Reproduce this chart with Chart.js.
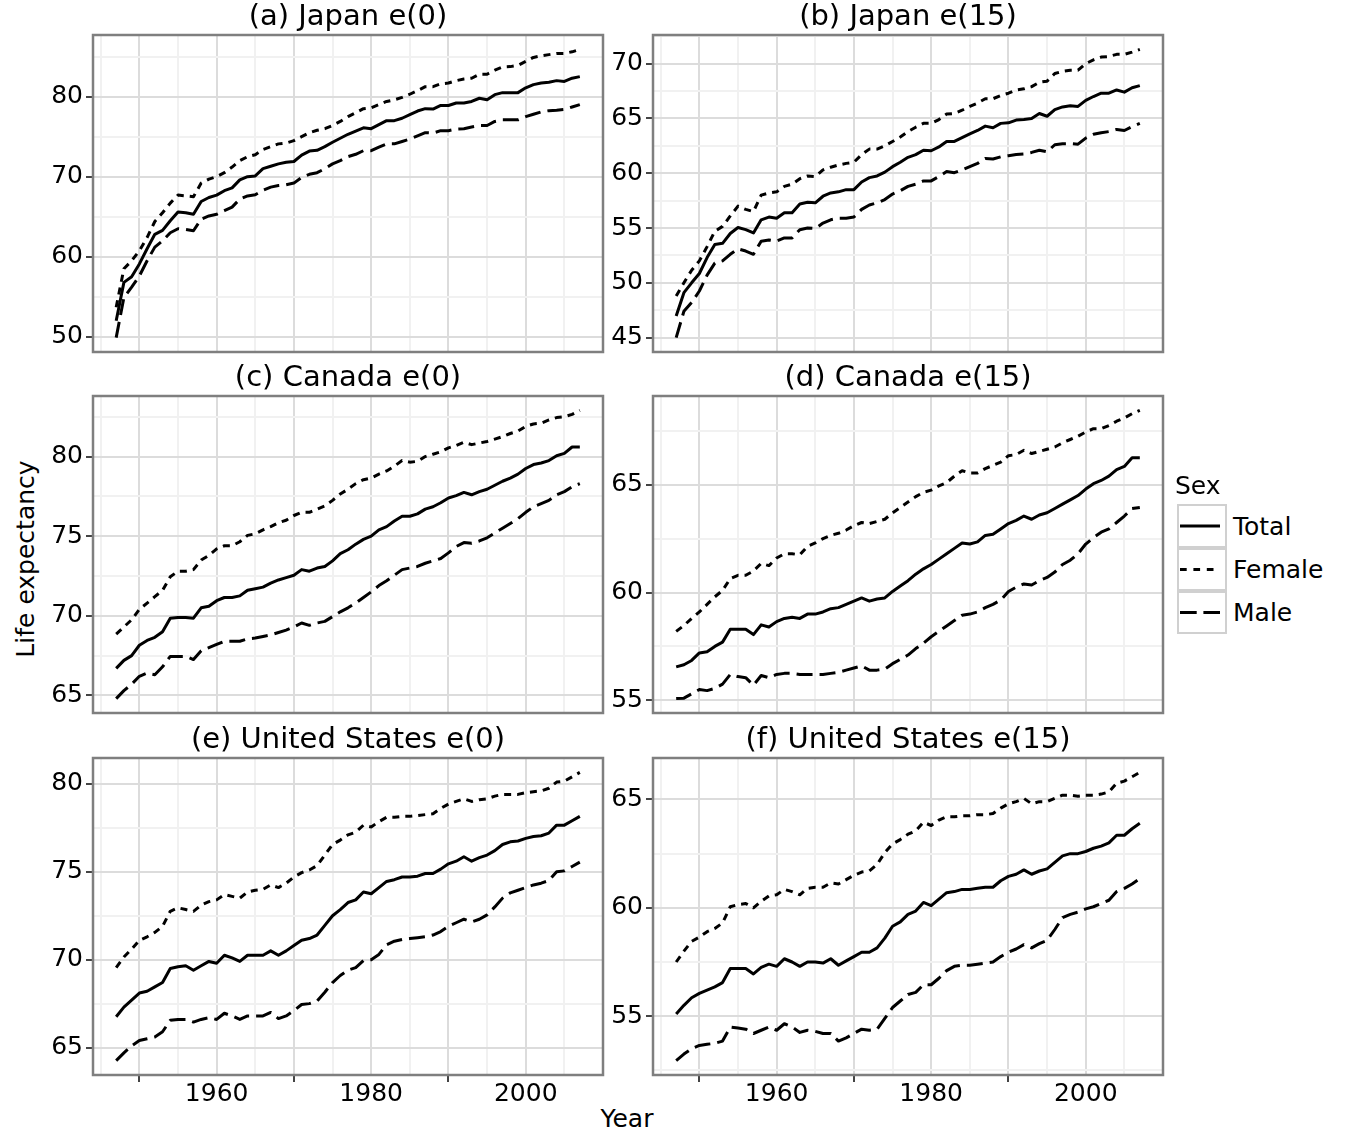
<!DOCTYPE html>
<html>
<head>
<meta charset="utf-8">
<title>Life expectancy: Japan, Canada, United States</title>
<script src="https://cdn.jsdelivr.net/npm/chart.js@4.4.1/dist/chart.umd.min.js"></script>
<style>
  html, body { margin: 0; padding: 0; background: #ffffff; }
  body { position: relative; width: 1350px; height: 1133px; overflow: hidden; font-family: 'DejaVu Sans', sans-serif; color: #000; }
  canvas.panel { position: absolute; }
  .txt { position: absolute; white-space: nowrap; font-size: 25px; line-height: 30px; height: 30px; color: #000; }
  #ylab { left: -124px; top: 544px; width: 300px; text-align: center; transform: rotate(-90deg); transform-origin: 50% 50%; }
  #xlab { left: 527px; top: 1104px; width: 200px; text-align: center; }
  #legendSvg { position: absolute; left: 0; top: 0; }
</style>
</head>
<body>
<div id="ylab" class="txt">Life expectancy</div>
<div id="xlab" class="txt">Year</div>
<script>
// ---------------- data ----------------
const years = [1947,1948,1949,1950,1951,1952,1953,1954,1955,1956,
               1957,1958,1959,1960,1961,1962,1963,1964,1965,1966,
               1967,1968,1969,1970,1971,1972,1973,1974,1975,1976,
               1977,1978,1979,1980,1981,1982,1983,1984,1985,1986,
               1987,1988,1989,1990,1991,1992,1993,1994,1995,1996,
               1997,1998,1999,2000,2001,2002,2003,2004,2005,2006,2007];

const sexNames = ['Total', 'Female', 'Male'];
const legendTitle = 'Sex';
const panelTitles = ['(a) Japan e(0)', '(b) Japan e(15)', '(c) Canada e(0)',
                     '(d) Canada e(15)', '(e) United States e(0)', '(f) United States e(15)'];

// (a) Japan e(0)
const japanE0Total = [52.0,56.8,57.5,59.1,61.0,62.8,63.3,64.5,65.6,65.5,
  65.3,66.9,67.4,67.7,68.25,68.6,69.6,70.0,70.1,71.0,
  71.3,71.6,71.8,71.9,72.7,73.2,73.3,73.75,74.3,74.8,
  75.3,75.7,76.1,76.0,76.5,77.0,77.0,77.3,77.75,78.2,
  78.5,78.45,78.9,78.9,79.2,79.2,79.4,79.8,79.6,80.25,
  80.5,80.5,80.5,81.1,81.5,81.7,81.8,82.0,81.9,82.3,82.5];
const japanE0Female = [53.7,58.5,59.5,60.75,62.4,64.4,65.5,66.7,67.7,67.6,
  67.5,69.2,69.7,70.0,70.5,71.2,72.0,72.5,72.75,73.4,
  73.75,74.1,74.2,74.5,75.0,75.5,75.8,76.0,76.4,76.9,
  77.5,78.0,78.5,78.6,79.0,79.4,79.6,79.9,80.3,80.75,
  81.25,81.25,81.6,81.7,82.0,82.2,82.3,82.8,82.8,83.3,
  83.7,83.75,83.9,84.4,84.9,85.1,85.25,85.4,85.4,85.6,85.9];
const japanE0Male = [49.9,54.9,56.2,57.6,59.5,61.2,62.0,63.0,63.5,63.4,
  63.25,64.7,65.1,65.3,65.75,66.2,67.2,67.6,67.75,68.3,
  68.7,68.9,69.0,69.2,69.9,70.3,70.5,71.0,71.6,72.0,
  72.5,72.8,73.25,73.25,73.7,74.1,74.1,74.4,74.7,75.1,
  75.5,75.45,75.75,75.75,75.95,76.0,76.2,76.4,76.4,76.9,
  77.1,77.1,77.1,77.5,77.8,78.1,78.25,78.3,78.4,78.7,79.0];

// (b) Japan e(15)
const japanE15Total = [46.97,49.1,50.0,50.85,52.3,53.5,53.6,54.5,55.05,54.85,
  54.55,55.75,56.0,55.9,56.4,56.4,57.2,57.35,57.3,57.9,
  58.2,58.3,58.5,58.5,59.2,59.6,59.75,60.1,60.6,61.0,
  61.45,61.7,62.1,62.05,62.4,62.9,62.9,63.25,63.6,63.9,
  64.3,64.15,64.55,64.6,64.85,64.9,65.0,65.45,65.2,65.8,
  66.05,66.15,66.1,66.65,67.0,67.3,67.3,67.6,67.4,67.8,68.0];
const japanE15Female = [48.8,50.0,51.15,52.0,53.3,54.7,55.15,56.1,57.0,56.7,
  56.5,58.0,58.2,58.3,58.8,59.0,59.5,59.75,59.7,60.3,
  60.55,60.75,60.9,61.0,61.7,62.2,62.2,62.5,62.9,63.3,
  63.8,64.2,64.55,64.55,64.9,65.4,65.45,65.75,66.1,66.4,
  66.8,66.8,67.1,67.3,67.6,67.7,67.9,68.3,68.4,69.1,
  69.3,69.4,69.4,70.0,70.35,70.6,70.65,70.85,70.85,71.05,71.3];
const japanE15Male = [45.0,47.4,48.2,49.25,50.7,51.8,52.0,52.6,53.1,52.9,
  52.6,53.8,53.9,53.8,54.1,54.1,54.85,55.0,54.95,55.45,
  55.75,55.9,55.9,56.0,56.7,57.1,57.3,57.6,58.1,58.4,
  58.8,59.0,59.3,59.3,59.7,60.15,60.05,60.3,60.6,60.9,
  61.35,61.3,61.5,61.6,61.7,61.75,61.9,62.1,61.95,62.6,
  62.7,62.7,62.65,63.2,63.55,63.7,63.8,64.0,63.9,64.25,64.55];

// (c) Canada e(0)
const canadaE0Total = [66.7,67.2,67.5,68.15,68.45,68.65,69.0,69.85,69.9,69.9,
  69.85,70.5,70.6,70.95,71.15,71.15,71.25,71.6,71.7,71.8,
  72.05,72.25,72.4,72.55,72.9,72.8,73.0,73.1,73.45,73.9,
  74.15,74.5,74.8,75.0,75.4,75.6,75.95,76.25,76.25,76.4,
  76.7,76.85,77.1,77.4,77.55,77.75,77.6,77.8,77.95,78.2,
  78.45,78.65,78.9,79.25,79.5,79.6,79.75,80.05,80.2,80.6,80.6];
const canadaE0Female = [68.85,69.3,69.75,70.4,70.8,71.2,71.6,72.45,72.8,72.8,
  72.9,73.5,73.8,74.2,74.4,74.4,74.65,75.05,75.15,75.4,
  75.6,75.85,76.0,76.3,76.5,76.5,76.7,76.9,77.25,77.65,
  77.95,78.3,78.55,78.65,78.9,79.1,79.4,79.75,79.65,79.7,
  80.0,80.15,80.3,80.55,80.7,80.9,80.75,80.85,80.95,81.1,
  81.25,81.45,81.6,81.9,82.05,82.1,82.3,82.45,82.5,82.65,82.9];
const canadaE0Male = [64.8,65.3,65.7,66.2,66.4,66.3,66.8,67.45,67.45,67.45,
  67.25,67.8,68.0,68.2,68.4,68.4,68.4,68.55,68.6,68.7,
  68.8,68.95,69.1,69.3,69.55,69.4,69.55,69.65,69.95,70.25,
  70.5,70.8,71.15,71.5,71.9,72.2,72.55,72.9,73.0,73.1,
  73.3,73.45,73.6,73.95,74.35,74.6,74.55,74.7,74.9,75.2,
  75.5,75.8,76.1,76.5,76.85,77.05,77.25,77.6,77.8,78.1,78.3];

// (d) Canada e(15)
const canadaE15Total = [56.55,56.65,56.85,57.2,57.25,57.5,57.7,58.3,58.3,58.3,
  58.05,58.5,58.4,58.65,58.8,58.85,58.8,59.0,59.0,59.1,
  59.25,59.3,59.45,59.6,59.75,59.6,59.7,59.75,60.05,60.3,
  60.55,60.85,61.1,61.3,61.55,61.8,62.05,62.3,62.25,62.35,
  62.65,62.7,62.95,63.2,63.35,63.55,63.4,63.6,63.7,63.9,
  64.1,64.3,64.5,64.8,65.05,65.2,65.4,65.7,65.85,66.25,66.25];
const canadaE15Female = [58.2,58.47,58.8,59.1,59.45,59.8,60.1,60.65,60.8,60.8,
  61.0,61.35,61.25,61.6,61.8,61.8,61.75,62.15,62.3,62.5,
  62.65,62.75,62.9,63.1,63.25,63.2,63.3,63.4,63.7,63.95,
  64.2,64.45,64.65,64.75,64.95,65.1,65.4,65.65,65.55,65.55,
  65.75,65.9,66.05,66.35,66.4,66.6,66.45,66.55,66.65,66.75,
  66.95,67.1,67.25,67.45,67.6,67.6,67.75,67.95,68.1,68.3,68.45];
const canadaE15Male = [55.08,55.1,55.3,55.5,55.45,55.55,55.75,56.2,56.1,56.05,
  55.7,56.15,56.05,56.2,56.25,56.25,56.2,56.2,56.2,56.2,
  56.25,56.3,56.4,56.5,56.6,56.4,56.4,56.45,56.7,56.9,
  57.1,57.4,57.65,57.95,58.2,58.45,58.7,58.95,59.0,59.1,
  59.3,59.45,59.65,60.05,60.25,60.4,60.35,60.55,60.7,60.95,
  61.3,61.5,61.8,62.25,62.55,62.8,62.95,63.25,63.55,63.9,63.95];

// (e) United States e(0)
const usaE0Total = [66.75,67.3,67.7,68.1,68.2,68.45,68.7,69.5,69.6,69.65,
  69.4,69.65,69.9,69.8,70.25,70.1,69.9,70.25,70.25,70.25,
  70.5,70.25,70.5,70.8,71.1,71.2,71.4,71.95,72.5,72.85,
  73.25,73.4,73.85,73.75,74.1,74.45,74.55,74.7,74.7,74.75,
  74.9,74.9,75.15,75.45,75.6,75.85,75.6,75.8,75.95,76.2,
  76.55,76.7,76.75,76.9,77.0,77.05,77.2,77.65,77.65,77.9,78.15];
const usaE0Female = [69.55,70.15,70.6,71.1,71.3,71.55,71.9,72.75,72.95,72.85,
  72.75,73.1,73.3,73.4,73.7,73.6,73.5,73.85,73.95,74.0,
  74.25,74.1,74.35,74.7,74.95,75.1,75.35,75.95,76.55,76.8,
  77.1,77.25,77.65,77.55,77.85,78.1,78.1,78.15,78.15,78.2,
  78.25,78.3,78.6,78.85,79.0,79.15,79.0,79.1,79.15,79.3,
  79.4,79.4,79.4,79.5,79.55,79.6,79.75,80.1,80.15,80.4,80.65];
const usaE0Male = [64.26,64.7,65.1,65.4,65.5,65.6,65.9,66.55,66.6,66.6,
  66.45,66.6,66.7,66.6,66.95,66.8,66.6,66.8,66.8,66.8,
  67.0,66.65,66.8,67.1,67.45,67.5,67.65,68.15,68.7,69.1,
  69.4,69.55,69.95,70.0,70.3,70.85,71.05,71.15,71.2,71.25,
  71.3,71.4,71.6,71.9,72.1,72.3,72.15,72.3,72.55,73.0,
  73.5,73.8,73.95,74.1,74.25,74.35,74.5,75.0,75.05,75.3,75.55];

// (f) United States e(15)
const usaE15Total = [55.1,55.5,55.85,56.05,56.2,56.35,56.55,57.2,57.2,57.2,
  56.95,57.25,57.4,57.3,57.65,57.5,57.3,57.5,57.5,57.45,
  57.65,57.35,57.55,57.75,57.95,57.95,58.15,58.6,59.15,59.35,
  59.7,59.85,60.25,60.1,60.4,60.7,60.75,60.85,60.85,60.9,
  60.95,60.95,61.25,61.45,61.55,61.75,61.55,61.7,61.8,62.1,
  62.4,62.5,62.5,62.6,62.75,62.85,63.0,63.35,63.35,63.65,63.9];
const usaE15Female = [57.5,58.0,58.45,58.65,58.9,59.05,59.3,60.05,60.15,60.2,
  60.0,60.3,60.55,60.6,60.85,60.75,60.6,60.9,60.95,60.95,
  61.15,61.1,61.3,61.5,61.65,61.7,62.0,62.55,62.95,63.15,
  63.4,63.55,63.95,63.8,64.05,64.2,64.2,64.25,64.25,64.3,
  64.3,64.35,64.6,64.8,64.9,65.05,64.8,64.9,64.9,65.05,
  65.2,65.2,65.15,65.2,65.2,65.25,65.35,65.75,65.85,66.05,66.25];
const usaE15Male = [52.95,53.25,53.5,53.65,53.7,53.75,53.85,54.5,54.45,54.4,
  54.2,54.35,54.5,54.35,54.65,54.5,54.25,54.35,54.3,54.2,
  54.2,53.85,54.0,54.2,54.4,54.35,54.4,54.9,55.4,55.7,
  56.0,56.1,56.45,56.45,56.75,57.1,57.3,57.35,57.35,57.4,
  57.45,57.5,57.75,57.95,58.1,58.3,58.15,58.35,58.5,59.0,
  59.55,59.7,59.8,59.95,60.05,60.2,60.35,60.75,60.9,61.1,61.35];

// tick values
const xGridYears = [1945,1950,1955,1960,1965,1970,1975,1980,1985,1990,1995,2000,2005];
const xMajorYears = [1950,1960,1970,1980,1990,2000];
const xLabelYears = [1960,1980,2000];
const xTickMarkYears = [1950,1970,1990];
const yMajorA = [50,60,70,80];           const yMinorA = [55,65,75,85];
const yMajorB = [45,50,55,60,65,70];     const yMinorB = [47.5,52.5,57.5,62.5,67.5,72.5];
const yMajorC = [65,70,75,80];           const yMinorC = [67.5,72.5,77.5,82.5];
const yMajorD = [55,60,65];              const yMinorD = [57.5,62.5,67.5];
const yMajorE = [65,70,75,80];           const yMinorE = [67.5,72.5,77.5];
const yMajorF = [55,60,65];              const yMinorF = [52.5,57.5,62.5];

// ---------------- layout / style ----------------
const COL_LEFT = [93, 653];
const ROW_TOP = [35, 396, 758];
const PW = 510, PH = 317;
const ML = 62, MR = 10, MT = 35;
const GRID_MAJOR = '#dcdcdc', GRID_MINOR = '#f1f1f1';
const TICK_COLOR = '#444444';
const NONE = 'rgba(0,0,0,0)';
const lineDash = [[], [7, 6], [16, 7]];

Chart.defaults.font.family = "'DejaVu Sans', sans-serif";
Chart.defaults.color = '#000';

const borderPlugin = {
  id: 'panelBorder',
  afterDraw(chart) {
    const a = chart.chartArea, ctx = chart.ctx;
    ctx.save();
    ctx.strokeStyle = '#7f7f7f';
    ctx.lineWidth = 2.5;
    ctx.strokeRect(a.left, a.top, a.right - a.left, a.bottom - a.top);
    ctx.restore();
  }
};

const panels = [
  { title: panelTitles[0], series: [japanE0Total, japanE0Female, japanE0Male], major: yMajorA, minor: yMinorA, col: 0, row: 0 },
  { title: panelTitles[1], series: [japanE15Total, japanE15Female, japanE15Male], major: yMajorB, minor: yMinorB, col: 1, row: 0 },
  { title: panelTitles[2], series: [canadaE0Total, canadaE0Female, canadaE0Male], major: yMajorC, minor: yMinorC, col: 0, row: 1 },
  { title: panelTitles[3], series: [canadaE15Total, canadaE15Female, canadaE15Male], major: yMajorD, minor: yMinorD, col: 1, row: 1 },
  { title: panelTitles[4], series: [usaE0Total, usaE0Female, usaE0Male], major: yMajorE, minor: yMinorE, col: 0, row: 2 },
  { title: panelTitles[5], series: [usaE15Total, usaE15Female, usaE15Male], major: yMajorF, minor: yMinorF, col: 1, row: 2 },
];

panels.forEach(p => {
  const isBottom = p.row === 2;
  const MB = isBottom ? 46 : 22;
  const W = ML + PW + MR, H = MT + PH + MB;
  const cv = document.createElement('canvas');
  cv.className = 'panel';
  cv.width = W; cv.height = H;
  cv.style.width = W + 'px'; cv.style.height = H + 'px';
  cv.style.left = (COL_LEFT[p.col] - ML) + 'px';
  cv.style.top = (ROW_TOP[p.row] - MT) + 'px';
  document.body.appendChild(cv);

  // ggplot-style 5% expansion of the data range
  const all = p.series.flat();
  const lo = Math.min(...all), hi = Math.max(...all);
  const ymin = lo - 0.05 * (hi - lo), ymax = hi + 0.05 * (hi - lo);
  const xmin = years[0] - 0.05 * (years[years.length - 1] - years[0]);
  const xmax = years[years.length - 1] + 0.05 * (years[years.length - 1] - years[0]);
  const yTicks = p.major.concat(p.minor).filter(v => v > ymin && v < ymax).sort((a, b) => a - b);

  new Chart(cv, {
    type: 'line',
    data: {
      datasets: p.series.map((vals, k) => ({
        label: sexNames[k],
        data: years.map((yr, i) => ({ x: yr, y: vals[i] })),
        borderColor: '#000',
        borderWidth: 3,
        borderDash: lineDash[k],
        borderCapStyle: 'butt',
        borderJoinStyle: 'round',
        pointRadius: 0,
        pointHoverRadius: 0,
        tension: 0,
        fill: false
      }))
    },
    options: {
      responsive: false,
      animation: false,
      devicePixelRatio: 1,
      events: [],
      layout: { padding: { left: 0, right: MR, top: 0, bottom: 0 } },
      plugins: {
        legend: { display: false },
        tooltip: { enabled: false },
        title: {
          display: true, text: p.title, color: '#000', fullSize: false,
          font: { size: 29, lineHeight: 35 / 29, weight: 'normal' },
          padding: 0
        }
      },
      scales: {
        x: {
          type: 'linear', min: xmin, max: xmax,
          afterBuildTicks: s => { s.ticks = xGridYears.map(v => ({ value: v })); },
          afterFit: s => { s.height = MB; },
          ticks: {
            display: isBottom, autoSkip: false, maxRotation: 0, minRotation: 0,
            padding: 2, color: '#000', font: { size: 25, lineHeight: 0.8 },
            callback: v => xLabelYears.includes(v) ? String(v) : ''
          },
          grid: {
            color: c => xMajorYears.includes(c.tick.value) ? GRID_MAJOR : GRID_MINOR,
            lineWidth: 2,
            drawTicks: isBottom, tickLength: 7, tickWidth: 2,
            tickColor: c => xTickMarkYears.includes(c.tick.value) ? TICK_COLOR : NONE
          },
          border: { display: false }
        },
        y: {
          type: 'linear', min: ymin, max: ymax,
          afterBuildTicks: s => { s.ticks = yTicks.map(v => ({ value: v })); },
          afterFit: s => { s.width = ML; },
          ticks: {
            autoSkip: false, padding: 3, color: '#000', font: { size: 25, lineHeight: 1.2 },
            callback: v => p.major.includes(v) ? String(v) : ''
          },
          grid: {
            color: c => p.major.includes(c.tick.value) ? GRID_MAJOR : GRID_MINOR,
            lineWidth: 2,
            drawTicks: true, tickLength: 7, tickWidth: 2,
            tickColor: c => p.major.includes(c.tick.value) ? TICK_COLOR : NONE
          },
          border: { display: false }
        }
      }
    },
    plugins: [borderPlugin]
  });
});

// ---------------- shared legend ----------------
(function buildLegend() {
  const NS = 'http://www.w3.org/2000/svg';
  const svg = document.createElementNS(NS, 'svg');
  svg.setAttribute('id', 'legendSvg');
  svg.setAttribute('width', '1350'); svg.setAttribute('height', '1133');
  const boxTop = [504, 548, 591], boxH = [44, 43, 43];
  sexNames.forEach((name, k) => {
    const r = document.createElementNS(NS, 'rect');
    r.setAttribute('x', 1178); r.setAttribute('y', boxTop[k] + 1);
    r.setAttribute('width', 48); r.setAttribute('height', boxH[k] - 2);
    r.setAttribute('fill', '#ffffff'); r.setAttribute('stroke', '#d0d0d0'); r.setAttribute('stroke-width', 2);
    svg.appendChild(r);
    const cy = boxTop[k] + boxH[k] / 2;
    const l = document.createElementNS(NS, 'line');
    l.setAttribute('x1', 1180); l.setAttribute('x2', 1220);
    l.setAttribute('y1', cy); l.setAttribute('y2', cy);
    l.setAttribute('stroke', '#000'); l.setAttribute('stroke-width', 3);
    if (lineDash[k].length) l.setAttribute('stroke-dasharray', k === 1 ? '6.7 6.7' : '16.7 6.7');
    svg.appendChild(l);
    const t = document.createElement('div');
    t.className = 'txt';
    t.textContent = name;
    t.style.left = '1233px';
    t.style.top = (cy - 14.5) + 'px';
    document.body.appendChild(t);
  });
  document.body.appendChild(svg);
  const tt = document.createElement('div');
  tt.className = 'txt';
  tt.textContent = legendTitle;
  tt.style.left = '1175px';
  tt.style.top = '471px';
  document.body.appendChild(tt);
})();
</script>
</body>
</html>
